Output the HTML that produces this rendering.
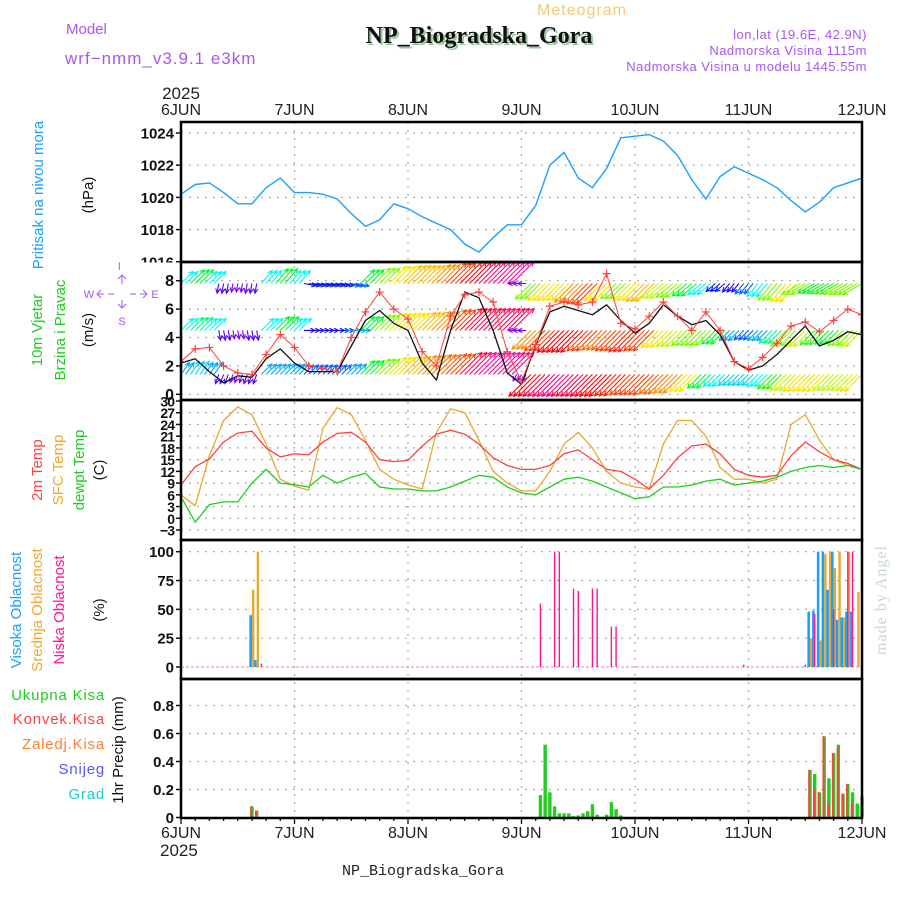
<!DOCTYPE html>
<html><head><meta charset="utf-8">
<style>
html,body{margin:0;padding:0;background:#fff;}
svg{display:block;font-family:"Liberation Sans",sans-serif;}
</style></head>
<body>
<svg id="chart" width="900" height="900" viewBox="0 0 900 900" xmlns="http://www.w3.org/2000/svg">
<defs>
<clipPath id="clipP1"><rect x="181" y="122" width="681" height="140"/></clipPath>
<clipPath id="clipP2"><rect x="181" y="262" width="681" height="138"/></clipPath>
<clipPath id="clipP3"><rect x="181" y="400" width="681" height="140"/></clipPath>
</defs>
<!-- header -->
<text x="582" y="15" font-size="16" fill="#f5c878" text-anchor="middle" letter-spacing="1">Meteogram</text>
<text x="66" y="34" font-size="15" fill="#a855f7">Model</text>
<text x="65" y="64" font-size="17" fill="#a855f7" letter-spacing="1">wrf−nmm_v3.9.1 e3km</text>
<text x="481" y="45" font-size="24" font-weight="bold" fill="#9ac89a" text-anchor="middle" font-family="Liberation Serif, serif">NP_Biogradska_Gora</text>
<text x="479" y="43" font-size="24" font-weight="bold" fill="#111" text-anchor="middle" font-family="Liberation Serif, serif">NP_Biogradska_Gora</text>
<text x="867" y="39" font-size="13" fill="#a855f7" text-anchor="end" letter-spacing="0.5">lon,lat (19.6E, 42.9N)</text>
<text x="867" y="55" font-size="13" fill="#a855f7" text-anchor="end" letter-spacing="0.5">Nadmorska Visina 1115m</text>
<text x="867" y="71" font-size="13" fill="#a855f7" text-anchor="end" letter-spacing="0.5">Nadmorska Visina u modelu 1445.55m</text>
<text x="181" y="99" font-size="17" fill="#222" text-anchor="middle">2025</text>
<!-- left titles -->
<text transform="translate(43,195) rotate(-90)" font-size="15" fill="#1aa0ff" text-anchor="middle">Pritisak na nivou mora</text>
<text transform="translate(93,195) rotate(-90)" font-size="15" fill="#111" text-anchor="middle">(hPa)</text>
<text transform="translate(42,330) rotate(-90)" font-size="15" fill="#22cc22" text-anchor="middle">10m Vjetar</text>
<text transform="translate(65,330) rotate(-90)" font-size="15" fill="#22cc22" text-anchor="middle">Brzina i Pravac</text>
<text transform="translate(93,330) rotate(-90)" font-size="15" fill="#111" text-anchor="middle">(m/s)</text>
<g>
<g fill="#a855f7" font-size="11" text-anchor="middle">
<text x="122" y="270">N</text><text x="122" y="325">S</text>
<text x="89" y="298">W</text><text x="155" y="298">E</text>
</g>
<path d="M122,276v8M122,308v-8M118,279l4,-4l4,4M118,304l4,4l4,-4M98,294h6M108,294h6M130,294h6M140,294h6M101,290l-4,4l4,4M143,290l4,4l-4,4" stroke="#a855f7" stroke-width="1" fill="none"/>
</g>
<text transform="translate(42,470) rotate(-90)" font-size="15" fill="#ff4040" text-anchor="middle">2m Temp</text>
<text transform="translate(63,470) rotate(-90)" font-size="15" fill="#f0a830" text-anchor="middle">SFC Temp</text>
<text transform="translate(84,470) rotate(-90)" font-size="15" fill="#22cc22" text-anchor="middle">dewpt Temp</text>
<text transform="translate(104,470) rotate(-90)" font-size="15" fill="#111" text-anchor="middle">(C)</text>
<text transform="translate(21,610) rotate(-90)" font-size="15" fill="#1aa0ff" text-anchor="middle">Visoka Oblacnost</text>
<text transform="translate(42,610) rotate(-90)" font-size="15" fill="#f0a830" text-anchor="middle">Srednja Oblacnost</text>
<text transform="translate(64,610) rotate(-90)" font-size="15" fill="#ff1493" text-anchor="middle">Niska Oblacnost</text>
<text transform="translate(104,610) rotate(-90)" font-size="15" fill="#111" text-anchor="middle">(%)</text>
<text x="105" y="700" font-size="15" fill="#22cc22" text-anchor="end" letter-spacing="0.8">Ukupna  Kisa</text>
<text x="105" y="724" font-size="15" fill="#ff4040" text-anchor="end" letter-spacing="0.8">Konvek.Kisa</text>
<text x="105" y="749" font-size="15" fill="#ff8030" text-anchor="end" letter-spacing="0.8">Zaledj.Kisa</text>
<text x="105" y="774" font-size="15" fill="#5555ff" text-anchor="end" letter-spacing="0.8">Snijeg</text>
<text x="105" y="799" font-size="15" fill="#22cccc" text-anchor="end" letter-spacing="0.8">Grad</text>
<text transform="translate(123,750) rotate(-90)" font-size="15" fill="#111" text-anchor="middle">1hr Precip (mm)</text>
<text x="160" y="856" font-size="17" fill="#222">2025</text>
<text x="423" y="875" font-size="15" fill="#222" text-anchor="middle" font-family="Liberation Mono, monospace">NP_Biogradska_Gora</text>
<text transform="translate(886,600) rotate(-90)" font-size="16" fill="#c8d8c8" text-anchor="middle" font-family="Liberation Serif, serif" letter-spacing="1">made by Angel</text>
<g id="plots"></g>
</svg>
<script>
// ---------- data ----------
const dayLabels = ["6JUN","7JUN","8JUN","9JUN","10JUN","11JUN","12JUN"];
const pressureTicks = [1016,1018,1020,1022,1024];
const windTicks = [0,2,4,6,8];
const tempTicks = [-3,0,3,6,9,12,15,18,21,24,27,30];
const cloudTicks = [0,25,50,75,100];
const precipTicks = [0,0.2,0.4,0.6,0.8];
// 3-hourly series (index k -> hour 3k)
const pressure = [1020.2,1020.8,1020.9,1020.3,1019.6,1019.6,1020.6,1021.2,1020.3,1020.3,1020.2,1019.9,1019.0,1018.2,1018.6,1019.6,1019.3,1018.8,1018.4,1018.0,1017.1,1016.6,1017.5,1018.3,1018.3,1019.5,1022.0,1022.8,1021.2,1020.6,1021.8,1023.7,1023.8,1023.9,1023.5,1022.6,1021.1,1019.9,1021.3,1021.9,1021.5,1021.1,1020.6,1019.8,1019.1,1019.7,1020.6,1020.9,1021.2];
const windSpeed = [2.2,2.5,1.6,0.8,1.3,1.2,2.5,3.2,2.2,1.6,1.6,1.6,3.4,5.2,5.9,5.0,4.5,2.2,1.0,4.5,7.2,6.8,4.5,1.5,0.7,3.5,5.8,6.2,5.9,5.6,6.3,5.2,4.3,5.0,6.3,5.5,4.9,5.2,4.2,2.3,1.7,2.0,2.8,3.8,4.8,3.4,3.8,4.4,4.2];
const windGust = [2.3,3.2,3.3,2.0,1.5,1.4,2.8,4.2,3.3,2.0,1.8,1.6,4.0,5.8,7.2,6.0,5.3,3.0,2.0,5.5,7.0,7.2,6.5,3.0,0.9,3.5,6.2,6.5,6.3,6.5,8.5,5.0,4.6,5.5,6.5,5.5,4.5,5.8,4.5,2.3,1.8,2.6,3.6,4.8,5.1,4.4,5.2,6.0,5.6];
const temp2m = [8.5,13.2,15.2,19.5,21.8,22.3,18,15.7,16.5,16.2,19.5,21.7,22,19.5,15.0,14.5,14.8,18.5,21.5,22.5,21.5,19,15.5,13.5,12.5,12.5,13.5,16.5,17.5,15,12.5,12,10,7.5,11,15.5,18.5,19,16.5,12.5,11,10.5,11,16,19.5,17,15,14,12.5];
const tempSfc = [6,3.2,16,25,28.5,26.5,19,10,8.2,7.2,23,28.3,26.5,20,12.5,10,8.5,7.5,22,28,27,20,12,9,7,7,12,19,22,18,12,9,8,7.5,19,25,25,21,13,10,10,9,10,24,26.5,20,15,13.5,12.5];
const dewpoint = [5.5,-1,3.5,4.2,4.2,9,12.5,9,8.6,8,11,9,10.5,11.5,8,7.5,7.5,7,7,8,9.5,11,10.5,8,6.5,6,8,10,10.5,9.5,8,6.5,5,5.5,8,8,8.5,9.5,10,8.5,9,9.5,10.5,12,13,13.5,13,13.5,12.5];
// wind arrows: direction wind comes FROM (deg), speed (m/s), three levels
const windDirLow = [215,215,215,20,20,20,225,225,225,225,225,225,225,225,225,225,225,225,225,225,225,225,225,225,30,45,45,45,45,45,45,45,45,45,45,45,45,45,45,45,45,45,45,45,45,45,45,45,45];
const windSpdLow = [4,4.5,4,2,1.5,2,4,4,4,3.5,3.5,3.5,4,6,7,8,8.5,9,9.5,10,12,13,13,12.5,1,11,12,12.5,12,11.5,11,10.5,10,10,9.5,9,8,6,5,4.5,4.5,5,6.5,7.5,8,8,7.5,7.5,8];
const windDirMid = [225,225,225,350,350,350,225,225,225,270,270,270,270,225,225,225,225,225,225,225,225,225,225,225,90,45,45,45,45,45,45,45,45,45,45,45,45,45,45,45,45,45,45,45,45,45,45,45,45];
const windSpdMid = [5,5.5,5,2,1.5,2,5,6,5,2.5,2.5,3,4,6,7,8,8,8.5,9,10,11.5,12,12,12,1.5,9,10,11,11,10,9.5,10,10.5,10,8,7.5,7,7,6,4,3.5,4,5.5,7,7.5,6.5,6,7,7.5];
const windDirTop = [225,225,225,10,10,10,220,220,220,280,280,280,280,225,225,225,225,225,225,225,225,225,225,225,90,45,45,45,45,45,45,45,45,45,50,50,50,50,50,40,40,40,40,40,60,60,60,60,60];
const windSpdTop = [5,6,5,2,1.5,2,5,6,5,3,3,3,3.5,6,7,8,8.5,8.5,9,10,11,12,12.5,13,1.5,7,8,8,9,10,8,7,8,8.5,7.5,7,6,5,3,2.5,3.5,5,7,8,7,6,6.5,7,7];
// hourly cloud bars
const cloudHours = [15,16,17,76,79,80,83,84,87,88,91,92,119,132,133,134,135,136,137,138,139,140,141,142,143];
const cloudHigh = [45,6,0,0,0,0,0,0,0,0,0,0,0,0,48,49,100,100,67,100,41,43,48,48,0];
const cloudMid = [67,100,0,0,0,0,0,0,0,0,0,0,0,0,25,0,23,98,100,86,100,43,100,0,65];
const cloudLow = [0,0,3,55,100,100,68,66,68,68,35,35,2,2,0,46,0,0,0,50,0,0,100,100,0];
// hourly precipitation bars
const precipHours = [15,16,76,77,78,79,80,81,82,83,84,85,86,87,88,90,91,92,93,133,134,135,136,137,138,139,140,141,142,143,144];
const precipTotal = [0.08,0.05,0.16,0.52,0.18,0.08,0.03,0.03,0.03,0.01,0.015,0.03,0.045,0.095,0.02,0.02,0.11,0.06,0.015,0.34,0.31,0.18,0.58,0.28,0.46,0.52,0.17,0.24,0.18,0.10,0.15];
const precipConv = [0.08,0.05,0,0,0,0,0,0,0,0,0,0,0,0,0,0,0,0,0,0.34,0.2,0.18,0.58,0.1,0.46,0.5,0.17,0.24,0.1,0,0];

// ---------- scales ----------
const X0 = 181, X1 = 862, HOURS = 144;
const xH = h => X0 + h * (X1 - X0) / HOURS;
const xK = k => xH(k * 3);
const yP = v => 133 + (1024 - v) * 16.1;
const yW = v => 394.3 - v * 14.2;
const yT = v => 401 + (30 - v) * 3.909;
const yC = v => 667 - v * 1.153;
const yR = v => 817.5 - v * 140;
const panels = [[122,262],[262,400],[400,540],[540,679],[679,818]];

const NS = "http://www.w3.org/2000/svg";
const root = document.getElementById("plots");
function mk(tag, attrs, parent) {
  const e = document.createElementNS(NS, tag);
  for (const k in attrs) e.setAttribute(k, attrs[k]);
  (parent || root).appendChild(e);
  return e;
}

// ---------- grid ----------
const grid = mk("g", {stroke:"#aaa","stroke-width":1.2,"stroke-dasharray":"2,6",fill:"none"});


dayLabels.forEach((d, i) => {
  if (i === 0 || i === dayLabels.length - 1) return;
  const ln = mk("line", {x1:xH(i*24), x2:xH(i*24), y1:122, y2:818}, grid);
  
  
});
function hgrid(ticks, yf, name) {
  ticks.forEach(t => {
    const y = yf(t);
    const ln = mk("line", {x1:X0, x2:X1, y1:y, y2:y}, grid);
    
    
  });
}
hgrid(pressureTicks.slice(1), yP, 'pressure-gridline');
hgrid(windTicks, yW, 'wind-gridline');
hgrid(tempTicks, yT, 'temp-gridline');
hgrid(cloudTicks.slice(1), yC, 'cloud-gridline');
hgrid(precipTicks.slice(1), yR, 'precip-gridline');

// ---------- tick labels ----------
function ylabels(ticks, yf, name, fmt, size, ls) {
  ticks.forEach(t => {
    const tx = mk("text", {x:174, y:yf(t)+5.5, "text-anchor":"end", "font-size":size, "font-weight":"bold", fill:"#111", "letter-spacing":ls});
    tx.textContent = fmt(t);
    
    
    const tk = mk("line", {x1:X0-5, x2:X0, y1:yf(t), y2:yf(t), stroke:"#111", "stroke-width":1.5});
    
    
  });
}
ylabels(pressureTicks, yP, 'pressure-tick-label', t => String(t), 15, 0);
const mask1 = mk("rect", {x:120, y:262.5, width:60, height:9, fill:"#fff"});


ylabels(windTicks, yW, 'wind-tick-label', t => String(t), 16, 0);
ylabels(tempTicks, yT, 'temp-tick-label', t => (t < 0 ? "−" + Math.abs(t) : String(t)), 14, -1);
ylabels(cloudTicks, yC, 'cloud-tick-label', t => String(t), 15, 0);
ylabels(precipTicks, yR, 'precip-tick-label', t => (t === 0 ? "0" : t.toFixed(1)), 15, 0);

dayLabels.forEach((d, i) => {
  const t1 = mk("text", {x:xH(i*24), y:115, "text-anchor":"middle", "font-size":16, fill:"#222"});
  t1.textContent = d;
  
  
  const t2 = mk("text", {x:xH(i*24), y:838, "text-anchor":"middle", "font-size":16, fill:"#222"});
  t2.textContent = d;
  
  
});
for (let h = 0; h <= HOURS; h += 3) {
  const tk = mk("line", {x1:xH(h), x2:xH(h), y1:818, y2:h % 24 === 0 ? 824 : 821, stroke:"#111", "stroke-width":1.3});
  
  
}

// ---------- lines ----------
function series(vals, yf, color, width, name, clip) {
  const pts = vals.map((v, k) => xK(k).toFixed(1) + "," + yf(v).toFixed(1)).join(" ");
  const pl = mk("polyline", {points:pts, fill:"none", stroke:color, "stroke-width":width, "stroke-linejoin":"round", "clip-path":clip});
  
  
  return pl;
}
series(pressure, yP, "#1aa0ff", 1.4, 'pressure-line', 'url(#clipP1)');

// wind arrows
function hueFor(s) {
  const stops = [[0,275],[1.5,270],[3,235],[4,200],[5,178],[6,130],[7,90],[8,55],[9,35],[10,15],[11,0],[12,-20],[13,-40]];
  if (s <= stops[0][0]) return stops[0][1];
  for (let i = 1; i < stops.length; i++) {
    if (s <= stops[i][0]) {
      const a = stops[i-1], b = stops[i], f = (s - a[0]) / (b[0] - a[0]);
      return a[1] + f * (b[1] - a[1]);
    }
  }
  return stops[stops.length-1][1];
}
const arrowsG = mk("g", {"clip-path":"url(#clipP2)", "stroke-width":1.1, fill:"none"});


const levels = [[windDirLow, windSpdLow, 1.4, 'low'], [windDirMid, windSpdMid, 4.5, 'mid'], [windDirTop, windSpdTop, 7.8, 'top']];
levels.forEach(([dirs, spds, base, nm]) => {
  dirs.forEach((dir, k) => {
    const s = spds[k];
    const to = (dir + 180) * Math.PI / 180;
    const len = Math.min(31, 5 + s * 2.4);
    const hue = ((hueFor(s) % 360) + 360) % 360;
    const col = "hsl(" + hue.toFixed(0) + ",95%,50%)";
    for (let sub = -1; sub <= 1; sub++) {
      const h = k * 3 + sub;
      if (h < 0 || h > HOURS) continue;
      const x0 = xH(h), y0 = yW(base);
      const x1 = x0 + Math.sin(to) * len, y1 = y0 - Math.cos(to) * len;
      const a1 = to + Math.PI - 0.45, a2 = to + Math.PI + 0.45;
      const d = "M" + x0.toFixed(1) + "," + y0.toFixed(1) + "L" + x1.toFixed(1) + "," + y1.toFixed(1) +
        "M" + (x1 + Math.sin(a1) * 5).toFixed(1) + "," + (y1 - Math.cos(a1) * 5).toFixed(1) + "L" + x1.toFixed(1) + "," + y1.toFixed(1) +
        "L" + (x1 + Math.sin(a2) * 5).toFixed(1) + "," + (y1 - Math.cos(a2) * 5).toFixed(1);
      const p = mk("path", {d:d, stroke:col}, arrowsG);
      
      
    }
  });
});
series(windSpeed, yW, "#111", 1.3, 'wind-speed-line', 'url(#clipP2)');
series(windGust, yW, "#ff4040", 1, 'wind-gust-line', 'url(#clipP2)');
windGust.forEach((v, k) => {
  const x = xK(k), y = yW(v);
  const m = mk("path", {d:"M"+(x-4)+","+y+"h8M"+x+","+(y-4)+"v8", stroke:"#ff4040", "stroke-width":1.2, "clip-path":"url(#clipP2)"});
  
  
});

series(tempSfc, yT, "#e8a830", 1.3, 'sfc-temp-line', 'url(#clipP3)');
series(temp2m, yT, "#ff4040", 1.3, 'temp-2m-line', 'url(#clipP3)');
series(dewpoint, yT, "#22cc22", 1.3, 'dewpoint-line', 'url(#clipP3)');

// cloud bars
const zl = mk("line", {x1:X0, x2:X1, y1:yC(0), y2:yC(0), stroke:"#e080c0", "stroke-width":1, "stroke-dasharray":"3,2"});


cloudHours.forEach((h, i) => {
  const x = xH(h);
  if (cloudHigh[i] > 0) {
    const r = mk("rect", {x:x-2.6, y:yC(cloudHigh[i]), width:2.6, height:yC(0)-yC(cloudHigh[i]), fill:"#1aa0ff"});
    
    
  }
  if (cloudMid[i] > 0) {
    const r = mk("rect", {x:x, y:yC(cloudMid[i]), width:2.4, height:yC(0)-yC(cloudMid[i]), fill:"#e8a830"});
    
    
  }
  if (cloudLow[i] > 0) {
    const r = mk("rect", {x:x-0.7, y:yC(cloudLow[i]), width:1.4, height:yC(0)-yC(cloudLow[i]), fill:"#ff1493"});
    
    
  }
});

// precip bars
precipHours.forEach((h, i) => {
  const x = xH(h);
  const g = mk("rect", {x:x-1.7, y:yR(precipTotal[i]), width:3.4, height:yR(0)-yR(precipTotal[i]), fill:"#22cc22"});
  
  
  if (precipConv[i] > 0) {
    const r = mk("rect", {x:x-1.7, y:yR(precipConv[i]), width:2, height:yR(0)-yR(precipConv[i]), fill:"#ff4040"});
    
    
  }
});

// panel frames
panels.forEach((p, i) => {
  const r = mk("rect", {x:X0, y:p[0], width:X1-X0, height:p[1]-p[0], fill:"none", stroke:"#000", "stroke-width":2.5});
  
  
});
</script>
</body></html>
